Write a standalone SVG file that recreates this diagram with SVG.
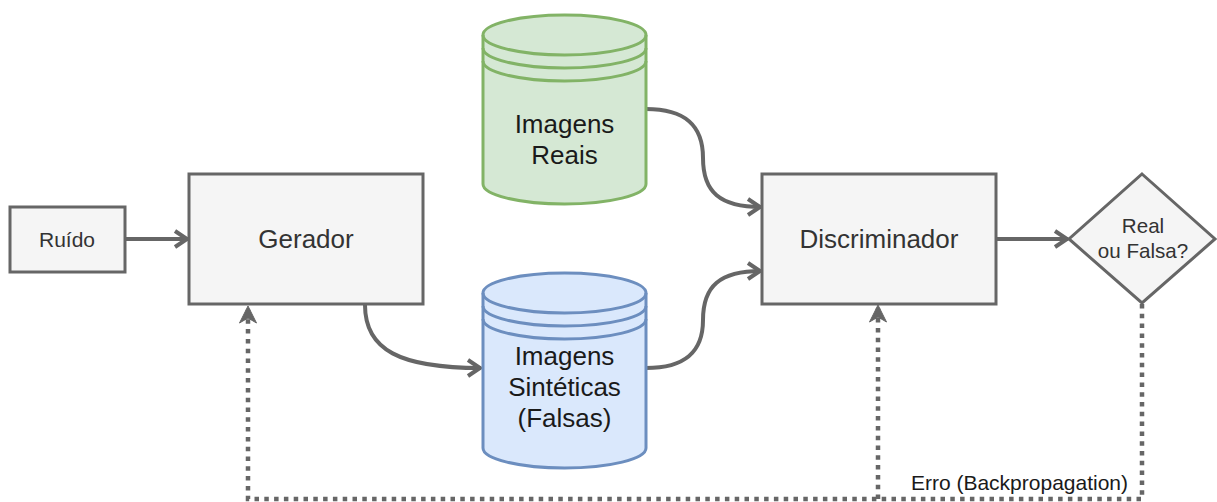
<svg xmlns="http://www.w3.org/2000/svg" width="1217" height="502" viewBox="0 0 1217 502">
<style>
.box{fill:#f5f5f5;stroke:#666666;stroke-width:3}
.lbl{font-family:"Liberation Sans",Arial,sans-serif;fill:#333333;text-anchor:middle}
.cyl-t{font-family:"Liberation Sans",Arial,sans-serif;fill:#1a1a1a;text-anchor:middle;font-size:26px}
.green{fill:#d5e8d4;stroke:#82b366;stroke-width:3}
.blue{fill:#dae8fc;stroke:#6c8ebf;stroke-width:3}
.ln{fill:none;stroke-width:3}
.conn{fill:none;stroke:#666666;stroke-width:4}
.dot{fill:none;stroke:#666666;stroke-width:4.5;stroke-dasharray:4.5 5.3}
</style>
<defs>
<marker id="open" markerUnits="userSpaceOnUse" orient="auto" overflow="visible" markerWidth="20" markerHeight="20" refX="0" refY="0">
<path d="M-13,-8 L-1,0 L-13,8" fill="none" stroke="#666666" stroke-width="4" stroke-linejoin="miter"/>
</marker>
<marker id="classic" markerUnits="userSpaceOnUse" orient="auto" overflow="visible" markerWidth="20" markerHeight="20" refX="0" refY="0">
<path d="M0,0 L-17,-8.5 L-12,0 L-17,8.5 Z" fill="#666666" stroke="#666666" stroke-width="1"/>
</marker>
</defs>

<g id="connectors">
<path class="conn" d="M125,239 L188,239" marker-end="url(#open)"/>
<path class="conn" d="M996,239 L1068,239" marker-end="url(#open)"/>
<path class="conn" d="M365,305 C365,350 400,368 481,368" marker-end="url(#open)"/>
<path class="conn" d="M646,109 C685,109 703,125 703,158 C703,192 720,207 761,207" marker-end="url(#open)"/>
<path class="conn" d="M646,368 C685,368 703,352 703,320 C703,286 720,271 761,271" marker-end="url(#open)"/>
<path class="dot" d="M1142,304 L1142,499 L248,499 L248,306" marker-end="url(#classic)"/>
<path class="dot" d="M878,499 L878,305" marker-end="url(#classic)"/>
</g>

<g id="ruido">
<rect class="box" x="10" y="207" width="115" height="65"/>
<text class="lbl" x="67" y="247" font-size="21">Ruído</text>
</g>

<g id="gerador">
<rect class="box" x="189" y="174" width="234" height="130"/>
<text class="lbl" x="306" y="248" font-size="26">Gerador</text>
</g>

<g id="discriminador">
<rect class="box" x="762" y="174" width="234" height="130"/>
<text class="lbl" x="879" y="248" font-size="26">Discriminador</text>
</g>

<g id="decisao">
<polygon class="box" points="1142,174 1215,239 1142,303 1069,239"/>
<text class="lbl" x="1143" y="233" font-size="20.6">Real</text>
<text class="lbl" x="1143" y="258" font-size="20.6">ou Falsa?</text>
</g>

<g id="imagens-reais">
<path class="green" d="M483,35 A81.5,20 0 0 1 646,35 L646,184 A81.5,20 0 0 1 483,184 Z"/>
<path class="ln" stroke="#82b366" d="M483,35 A81.5,20 0 0 0 646,35 M483,48 A81.5,20 0 0 0 646,48 M483,61 A81.5,20 0 0 0 646,61"/>
<text class="cyl-t" x="564.5" y="133">Imagens</text>
<text class="cyl-t" x="564.5" y="164">Reais</text>
</g>

<g id="imagens-sinteticas">
<path class="blue" d="M483,293 A81.5,20 0 0 1 646,293 L646,448 A81.5,20 0 0 1 483,448 Z"/>
<path class="ln" stroke="#6c8ebf" d="M483,293 A81.5,20 0 0 0 646,293 M483,306 A81.5,20 0 0 0 646,306 M483,319 A81.5,20 0 0 0 646,319"/>
<text class="cyl-t" x="564.5" y="365">Imagens</text>
<text class="cyl-t" x="564.5" y="396">Sintéticas</text>
<text class="cyl-t" x="564.5" y="427">(Falsas)</text>
</g>

<g id="erro-label">
<rect x="909" y="469" width="221" height="25" fill="#ffffff"/>
<text x="1019.5" y="490" font-family="Liberation Sans, Arial, sans-serif" font-size="21" fill="#1a1a1a" text-anchor="middle">Erro (Backpropagation)</text>
</g>
</svg>
